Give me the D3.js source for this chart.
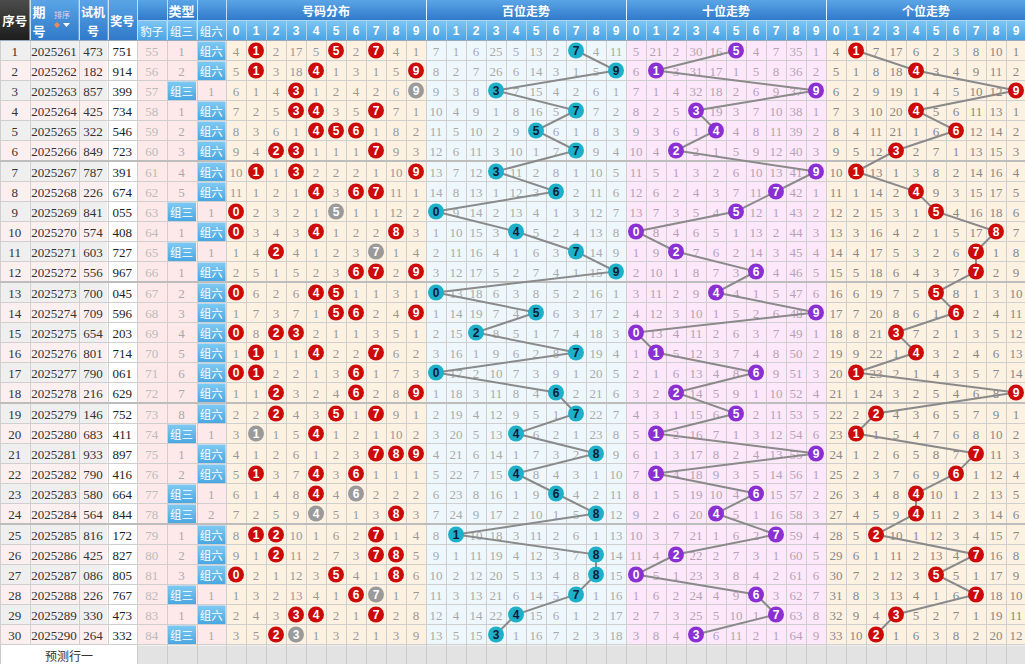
<!DOCTYPE html>
<html><head><meta charset="utf-8">
<script src="https://cdn.jsdelivr.net/npm/d3@7"></script>
<style>body{margin:0;background:#fff}svg{display:block}</style>
</head><body><svg id="c" width="1025" height="664"></svg>
<script>
// ---------------- DATA ----------------
const issues = ["2025261","2025262","2025263","2025264","2025265","2025266","2025267","2025268","2025269","2025270",
  "2025271","2025272","2025273","2025274","2025275","2025276","2025277","2025278","2025279","2025280",
  "2025281","2025282","2025283","2025284","2025285","2025286","2025287","2025288","2025289","2025290"];
const testNums = ["473","182","857","425","322","849","787","226","841","574","603","556","700","709","654",
  "801","790","216","146","683","933","790","580","564","816","425","086","226","330","264"];
const drawNums = ["751","914","399","734","546","723","391","674","055","408","727","967","045","596","203",
  "714","061","629","752","411","897","416","664","844","172","827","805","767","473","332"];
const baoziCol = [55,56,57,58,59,60,61,62,63,64,65,66,67,68,69,70,71,72,73,74,75,76,77,78,79,80,81,82,83,84];
const zusanCol = ["1","2","组三","1","2","3","4","5","组三","1","组三","1","2","3","4","5","6","7","8","组三",
  "1","2","组三","组三","1","2","3","组三","1","组三"];
const zuliuCol = ["组六","组六","1","组六","组六","组六","组六","组六","1","组六","1","组六","组六","组六","组六",
  "组六","组六","组六","组六","1","组六","组六","1","2","组六","组六","组六","1","组六","1"];
const digitLabels = ["0","1","2","3","4","5","6","7","8","9"];
const typeLabels = ["豹子","组三","组六"];
const sectionTitles = ["号码分布","百位走势","十位走势","个位走势"];
// omission values per row (0 = drawn that row)
const distMiss = [
"4 0 2 17 5 0 2 0 4 1","5 0 3 18 0 1 3 1 5 0","6 1 4 0 1 2 4 2 6 0","7 2 5 0 0 3 5 0 7 1","8 3 6 1 0 0 0 1 8 2",
"9 4 0 0 1 1 1 0 9 3","10 0 1 0 2 2 2 1 10 0","11 1 2 1 0 3 0 0 11 1","0 2 3 2 1 0 1 1 12 2","0 3 4 3 0 1 2 2 0 3",
"1 4 0 4 1 2 3 0 1 4","2 5 1 5 2 3 0 0 2 0","0 6 2 6 0 0 1 1 3 1","1 7 3 7 1 0 0 2 4 0","0 8 0 0 2 1 1 3 5 1",
"1 0 1 1 0 2 2 0 6 2","0 0 2 2 1 3 0 1 7 3","1 1 0 3 2 4 0 2 8 0","2 2 0 4 3 0 1 0 9 1","3 0 1 5 0 1 2 1 10 2",
"4 1 2 6 1 2 3 0 0 0","5 0 3 7 0 3 0 1 1 1","6 1 4 8 0 4 0 2 2 2","7 2 5 9 0 5 1 3 0 3","8 0 0 10 1 6 2 0 1 4",
"9 1 0 11 2 7 3 0 0 5","0 2 1 12 3 0 4 1 0 6","1 3 2 13 4 1 0 0 1 7","2 4 3 0 0 2 1 0 2 8","3 5 0 0 1 3 2 1 3 9"];
const baiMiss = [
"7 1 6 25 5 13 2 0 4 11","8 2 7 26 6 14 3 1 5 0","9 3 8 0 7 15 4 2 6 1","10 4 9 1 8 16 5 0 7 2","11 5 10 2 9 0 6 1 8 3",
"12 6 11 3 10 1 7 0 9 4","13 7 12 0 11 2 8 1 10 5","14 8 13 1 12 3 0 2 11 6","0 9 14 2 13 4 1 3 12 7","1 10 15 3 0 5 2 4 13 8",
"2 11 16 4 1 6 3 0 14 9","3 12 17 5 2 7 4 1 15 0","0 13 18 6 3 8 5 2 16 1","1 14 19 7 4 0 6 3 17 2","2 15 0 8 5 1 7 4 18 3",
"3 16 1 9 6 2 8 0 19 4","0 17 2 10 7 3 9 1 20 5","1 18 3 11 8 4 0 2 21 6","2 19 4 12 9 5 1 0 22 7","3 20 5 13 0 6 2 1 23 8",
"4 21 6 14 1 7 3 2 0 9","5 22 7 15 0 8 4 3 1 10","6 23 8 16 1 9 0 4 2 11","7 24 9 17 2 10 1 5 0 12","8 0 10 18 3 11 2 6 1 13",
"9 1 11 19 4 12 3 7 0 14","10 2 12 20 5 13 4 8 0 15","11 3 13 21 6 14 5 0 1 16","12 4 14 22 0 15 6 1 2 17","13 5 15 0 1 16 7 2 3 18"];
const shiMiss = [
"5 21 2 30 16 0 4 7 35 1","6 0 3 31 17 1 5 8 36 2","7 1 4 32 18 2 6 9 37 0","8 2 5 0 19 3 7 10 38 1","9 3 6 1 0 4 8 11 39 2",
"10 4 0 2 1 5 9 12 40 3","11 5 1 3 2 6 10 13 41 0","12 6 2 4 3 7 11 0 42 1","13 7 3 5 4 0 12 1 43 2","0 8 4 6 5 1 13 2 44 3",
"1 9 0 7 6 2 14 3 45 4","2 10 1 8 7 3 0 4 46 5","3 11 2 9 0 4 1 5 47 6","4 12 3 10 1 5 2 6 48 0","0 13 4 11 2 6 3 7 49 1",
"1 0 5 12 3 7 4 8 50 2","2 1 6 13 4 8 0 9 51 3","3 2 0 14 5 9 1 10 52 4","4 3 1 15 6 0 2 11 53 5","5 0 2 16 7 1 3 12 54 6",
"6 1 3 17 8 2 4 13 55 0","7 0 4 18 9 3 5 14 56 1","8 1 5 19 10 4 0 15 57 2","9 2 6 20 0 5 1 16 58 3","10 3 7 21 1 6 2 0 59 4",
"11 4 0 22 2 7 3 1 60 5","0 5 1 23 3 8 4 2 61 6","1 6 2 24 4 9 0 3 62 7","2 7 3 25 5 10 1 0 63 8","3 8 4 0 6 11 2 1 64 9"];
const geMiss = [
"4 0 7 17 6 2 3 8 10 1","5 1 8 18 0 3 4 9 11 2","6 2 9 19 1 4 5 10 12 0","7 3 10 20 0 5 6 11 13 1","8 4 11 21 1 6 0 12 14 2",
"9 5 12 0 2 7 1 13 15 3","10 0 13 1 3 8 2 14 16 4","11 1 14 2 0 9 3 15 17 5","12 2 15 3 1 0 4 16 18 6","13 3 16 4 2 1 5 17 0 7",
"14 4 17 5 3 2 6 0 1 8","15 5 18 6 4 3 7 0 2 9","16 6 19 7 5 0 8 1 3 10","17 7 20 8 6 1 0 2 4 11","18 8 21 0 7 2 1 3 5 12",
"19 9 22 1 0 3 2 4 6 13","20 0 23 2 1 4 3 5 7 14","21 1 24 3 2 5 4 6 8 0","22 2 0 4 3 6 5 7 9 1","23 0 1 5 4 7 6 8 10 2",
"24 1 2 6 5 8 7 0 11 3","25 2 3 7 6 9 0 1 12 4","26 3 4 8 0 10 1 2 13 5","27 4 5 9 0 11 2 3 14 6","28 5 0 10 1 12 3 4 15 7",
"29 6 1 11 2 13 4 0 16 8","30 7 2 12 3 0 5 1 17 9","31 8 3 13 4 1 6 0 18 10","32 9 4 0 5 2 7 1 19 11","33 10 0 1 6 3 8 2 20 12"];
const predictLabel = "预测行一";

// ---------------- LAYOUT ----------------
const svg = d3.select("#c");
const N = issues.length;
const FONT_NUM = "'Liberation Serif', serif";
const FONT_CJK = "'Noto Sans CJK SC', sans-serif";
const FONT_BALL = "'Liberation Sans', Arial, sans-serif";
const leftEdges = [0, 29.5, 78.5, 107.5, 137, 166.5, 196.5, 226];
const xCol = d3.scaleBand().domain(d3.range(40)).range([226, 1026]);
const yBand = d3.scaleBand().domain(d3.range(N)).range([40.5, 40.5 + 20 * N]);
const yTop = i => yBand(i) + Math.floor(i / 6);
const rowH = 20;
const yMid = i => yTop(i) + rowH / 2;
const bodyBottom = yTop(N - 1) + rowH;
const H0 = 20.5, H1 = 40.5;

const defs = svg.append("defs");
function grad(id, c1, c2) {
  const g = defs.append("linearGradient").attr("id", id).attr("x1", 0).attr("y1", 0).attr("x2", 0).attr("y2", 1);
  g.append("stop").attr("offset", "0%").attr("stop-color", c1);
  g.append("stop").attr("offset", "100%").attr("stop-color", c2);
}
grad("gTop", "#5aa4e6", "#2f79c9");
grad("gSub", "#7ec6f3", "#4ba3e3");
grad("gDark", "#4c4c4c", "#1c1c1c");
grad("gCell", "#7fcaf3", "#4aa7e2");

const parse = arr => arr.map(s => s.split(" ").map(Number));
const sections = [parse(distMiss), parse(baiMiss), parse(shiMiss), parse(geMiss)];
const secBg = ["#fdf1e2", "#eef8fc", "#fde8fb", "#fdf1e2"];
const secText = ["#999", "#aaa", "#b3a3b3", "#888"];

// ---- backgrounds ----
const bg = svg.append("g");
d3.range(N).forEach(i => {
  const y = yTop(i);
  const alt = i % 2 === 0 ? "#efefef" : "#fcefef";
  [0, 1, 2].forEach(c => bg.append("rect").attr("x", leftEdges[c]).attr("y", y).attr("width", leftEdges[c + 1] - leftEdges[c]).attr("height", rowH).attr("fill", alt));
  bg.append("rect").attr("x", leftEdges[3]).attr("y", y).attr("width", leftEdges[4] - leftEdges[3]).attr("height", rowH).attr("fill", "#fff");
  bg.append("rect").attr("x", leftEdges[4]).attr("y", y).attr("width", leftEdges[7] - leftEdges[4]).attr("height", rowH).attr("fill", "#fde9e9");
});
sections.forEach((s, k) => {
  bg.append("rect").attr("x", xCol(k * 10)).attr("y", H1).attr("width", xCol.bandwidth() * 10).attr("height", bodyBottom - H1 + 1).attr("fill", secBg[k]);
});
// highlighted type cells
d3.range(N).forEach(i => {
  [[zusanCol[i], 5], [zuliuCol[i], 6]].forEach(([v, c]) => {
    if (isNaN(+v)) bg.append("rect").attr("x", leftEdges[c] + 1).attr("y", yTop(i) + 1).attr("width", leftEdges[c + 1] - leftEdges[c] - 1.5).attr("height", rowH - 1.5).attr("fill", "url(#gCell)");
  });
});

// ---- grid ----
const grid = svg.append("g").attr("stroke", "#cfcfcf").attr("stroke-width", 1).attr("shape-rendering", "crispEdges");
const vxs = leftEdges.concat(d3.range(1, 41).map(k => 226 + k * 20));
vxs.forEach(x => grid.append("line").attr("x1", x + 0.5).attr("x2", x + 0.5).attr("y1", H1).attr("y2", 664));
d3.range(N + 1).forEach(i => {
  const y = i < N ? yTop(i) : bodyBottom;
  const thick = i > 0 && i < N && i % 6 === 0;
  grid.append("line").attr("x1", 0).attr("x2", 1025).attr("y1", thick ? y - 0.5 : y).attr("y2", thick ? y - 0.5 : y)
    .attr("stroke", thick ? "#bdbdbd" : "#cfcfcf").attr("stroke-width", thick ? 2 : 1);
});

// ---- left column texts ----
const tx = svg.append("g").attr("text-anchor", "middle").attr("dominant-baseline", "central");
const midX = c => (leftEdges[c] + leftEdges[c + 1]) / 2;
d3.range(N).forEach(i => {
  const y = yMid(i) + 0.5;
  tx.append("text").attr("x", midX(0)).attr("y", y).text(i + 1).attr("fill", "#333").attr("font-family", FONT_NUM).attr("font-size", 13);
  tx.append("text").attr("x", midX(1)).attr("y", y).text(issues[i]).attr("fill", "#333").attr("font-family", FONT_NUM).attr("font-size", 13);
  tx.append("text").attr("x", midX(2)).attr("y", y).text(testNums[i]).attr("fill", "#333").attr("font-family", FONT_NUM).attr("font-size", 13);
  tx.append("text").attr("x", midX(3)).attr("y", y).text(drawNums[i]).attr("fill", "#222").attr("font-family", FONT_NUM).attr("font-size", 13);
  tx.append("text").attr("x", midX(4)).attr("y", y).text(baoziCol[i]).attr("fill", "#bbb").attr("font-family", FONT_NUM).attr("font-size", 13);
  [[zusanCol[i], 5], [zuliuCol[i], 6]].forEach(([v, c]) => {
    const hit = isNaN(+v);
    tx.append("text").attr("x", midX(c)).attr("y", y).text(v)
      .attr("fill", hit ? "#fff" : "#aaa").attr("font-family", hit ? FONT_CJK : FONT_NUM).attr("font-size", hit ? 11.5 : 13);
  });
});

// ---- miss numbers ----
const missG = svg.append("g").attr("text-anchor", "middle").attr("dominant-baseline", "central").attr("font-family", FONT_NUM).attr("font-size", 13);
sections.forEach((s, k) => {
  s.forEach((row, i) => row.forEach((v, d) => {
    if (v > 0) missG.append("text").attr("x", xCol(k * 10 + d) + 10).attr("y", yMid(i) + 0.5).attr("fill", secText[k]).text(v);
  }));
});

// ---- trend lines ----
const line = d3.line();
const lineG = svg.append("g").attr("fill", "none").attr("stroke", "#8a8a8a").attr("stroke-width", 2);
[1, 2, 3].forEach(k => {
  const pts = sections[k].map((row, i) => [xCol(k * 10 + row.indexOf(0)) + 10, yMid(i)]);
  lineG.append("path").attr("d", line(pts));
});

// ---- balls ----
const ballG = svg.append("g");
const ballFill = ["#cc0a0a", "#1eb0c8", "#8a2fd2", "#cc0a0a"];
const ballText = ["#fff", "#0b1a3a", "#fff", "#fff"];
sections.forEach((s, k) => {
  s.forEach((row, i) => row.forEach((v, d) => {
    if (v !== 0) return;
    let fill = ballFill[k];
    if (k === 0) {
      const cnt = drawNums[i].split("").filter(ch => ch === digitLabels[d]).length;
      if (cnt === 2) fill = "#9a9a9a";
    }
    const cx = xCol(k * 10 + d) + 10, cy = yMid(i);
    ballG.append("circle").attr("cx", cx).attr("cy", cy).attr("r", 8).attr("fill", fill);
    ballG.append("text").attr("x", cx).attr("y", cy + 0.5).attr("text-anchor", "middle").attr("dominant-baseline", "central")
      .attr("font-family", FONT_BALL).attr("font-weight", "bold").attr("font-size", 12).attr("fill", ballText[k]).text(digitLabels[d]);
  }));
});

// ---- header ----
const hd = svg.append("g");
hd.append("rect").attr("x", 0).attr("y", 0).attr("width", leftEdges[1]).attr("height", H1).attr("fill", "url(#gDark)");
[1, 2, 3].forEach(c => hd.append("rect").attr("x", leftEdges[c]).attr("y", 0).attr("width", leftEdges[c + 1] - leftEdges[c]).attr("height", H1).attr("fill", "url(#gTop)"));
hd.append("rect").attr("x", leftEdges[4]).attr("y", 0).attr("width", leftEdges[7] - leftEdges[4]).attr("height", H0).attr("fill", "url(#gTop)");
sections.forEach((s, k) => hd.append("rect").attr("x", xCol(k * 10)).attr("y", 0).attr("width", 200).attr("height", H0).attr("fill", "url(#gTop)"));
[4, 5, 6].forEach(c => hd.append("rect").attr("x", leftEdges[c]).attr("y", H0).attr("width", leftEdges[c + 1] - leftEdges[c]).attr("height", H1 - H0).attr("fill", "url(#gSub)"));
d3.range(40).forEach(j => hd.append("rect").attr("x", xCol(j)).attr("y", H0).attr("width", xCol.bandwidth()).attr("height", H1 - H0).attr("fill", "url(#gSub)"));
// header separators
const hl = hd.append("g").attr("shape-rendering", "crispEdges");
leftEdges.slice(1).forEach(x => hl.append("line").attr("x1", x + 0.5).attr("x2", x + 0.5).attr("y1", 0).attr("y2", H1).attr("stroke", "#bfe0f7"));
d3.range(1, 40).forEach(j => hl.append("line").attr("x1", xCol(j) + 0.5).attr("x2", xCol(j) + 0.5).attr("y1", j % 10 === 0 ? 0 : H0).attr("y2", H1).attr("stroke", j % 10 === 0 ? "#e6f3fc" : "#a9d6f5"));
hl.append("line").attr("x1", leftEdges[4]).attr("x2", 1025).attr("y1", H0).attr("y2", H0).attr("stroke", "#a9d6f5");
hl.append("line").attr("x1", 0).attr("x2", 1025).attr("y1", H1).attr("y2", H1).attr("stroke", "#9ab");

const ht = hd.append("g").attr("text-anchor", "middle").attr("dominant-baseline", "central").attr("fill", "#fff")
  .attr("font-family", FONT_CJK).attr("font-weight", "bold");
ht.append("text").attr("x", midX(0)).attr("y", 20).attr("font-size", 12.5).text("序号");
ht.append("text").attr("x", 39).attr("y", 11).attr("font-size", 13).text("期");
ht.append("text").attr("x", 39).attr("y", 30).attr("font-size", 13).text("号");
ht.append("text").attr("x", 62).attr("y", 14).attr("font-size", 8).attr("font-weight", "normal").attr("fill", "#f3d0e0").text("排序");
ht.append("path").attr("d", "M54,25 l3,-3 l3,3 l-3,3 z").attr("fill", "#f08a5a");
ht.append("path").attr("d", "M63,23 h7 l-3.5,4 z").attr("fill", "#fff");
ht.append("text").attr("x", midX(2)).attr("y", 11).attr("font-size", 12).text("试机");
ht.append("text").attr("x", midX(2)).attr("y", 30).attr("font-size", 12).text("号");
ht.append("text").attr("x", midX(3)).attr("y", 20).attr("font-size", 12).text("奖号");
ht.append("text").attr("x", (leftEdges[4] + leftEdges[7]) / 2).attr("y", 10).attr("font-size", 13).text("类型");
typeLabels.forEach((t, c) => ht.append("text").attr("x", midX(4 + c)).attr("y", 30.5).attr("font-size", 11.5).attr("font-weight", "normal").text(t));
sectionTitles.forEach((t, k) => ht.append("text").attr("x", xCol(k * 10) + 100).attr("y", 10).attr("font-size", 12).text(t));
d3.range(40).forEach(j => ht.append("text").attr("x", xCol(j) + 10).attr("y", 31).attr("font-family", FONT_BALL).attr("font-size", 12).text(digitLabels[j % 10]));

// ---- bottom prediction row ----
const bt = svg.append("g");
bt.append("rect").attr("x", 0).attr("y", bodyBottom + 0.5).attr("width", leftEdges[4]).attr("height", 664 - bodyBottom).attr("fill", "#fff");
bt.append("rect").attr("x", leftEdges[4] + 0.5).attr("y", bodyBottom + 1).attr("width", 1025 - leftEdges[4]).attr("height", 664 - bodyBottom).attr("fill", "#e3e3e3");
vxs.filter(x => x >= leftEdges[4]).forEach(x => bt.append("line").attr("x1", x + 0.5).attr("x2", x + 0.5).attr("y1", bodyBottom).attr("y2", 664).attr("stroke", "#cbcbcb").attr("shape-rendering", "crispEdges"));
bt.append("line").attr("x1", 0.5).attr("x2", 0.5).attr("y1", bodyBottom).attr("y2", 664).attr("stroke", "#cbcbcb");
bt.append("text").attr("x", 69).attr("y", (bodyBottom + 664) / 2 + 1).attr("text-anchor", "middle").attr("dominant-baseline", "central")
  .attr("font-family", FONT_CJK).attr("font-size", 12).attr("fill", "#333").text(predictLabel);
</script>
</body></html>
